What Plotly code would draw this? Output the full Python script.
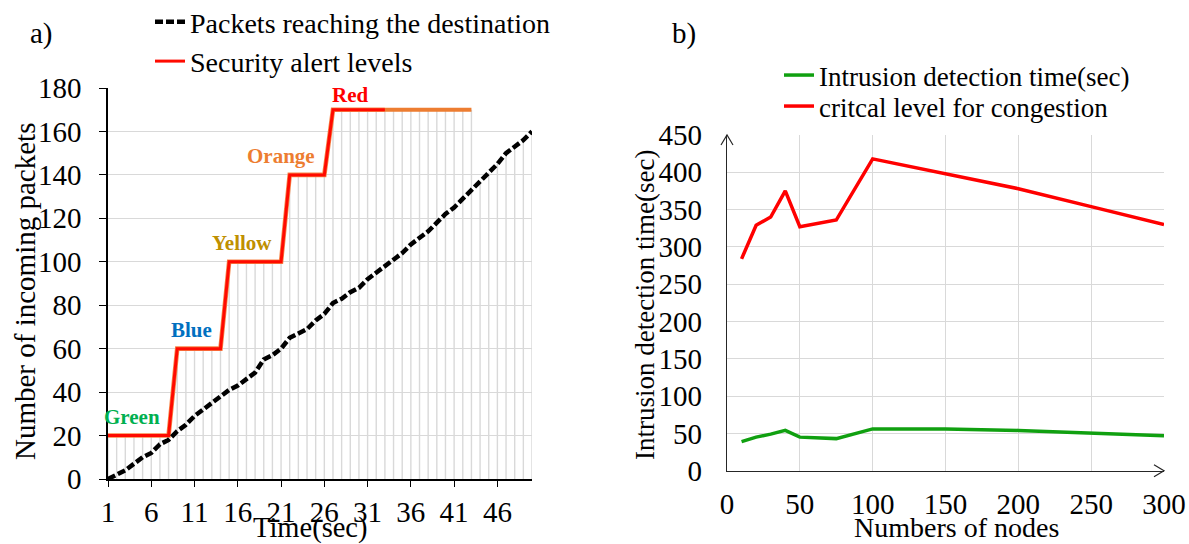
import plotly.graph_objects as go

# ---------------- data: panel a ----------------
time_sec = list(range(1, 51))
packets = [0, 2, 4, 7, 10, 12, 16, 18, 22, 25,
           29, 32, 35, 38, 41, 43, 46, 49, 55, 57,
           60, 65, 67, 69, 73, 76, 81, 83, 86, 88,
           92, 95, 98, 101, 104, 108, 111, 114, 118, 122,
           125, 129, 133, 137, 141, 145, 150, 153, 156, 160]
alert_levels = [20, 20, 20, 20, 20, 20, 20, 20,
                60, 60, 60, 60, 60, 60,
                100, 100, 100, 100, 100, 100, 100,
                140, 140, 140, 140, 140,
                170, 170, 170, 170, 170, 170, 170, 170, 170,
                170, 170, 170, 170, 170, 170, 170, 170]
level_names = ["Green", "Blue", "Yellow", "Orange", "Red"]
level_values = [20, 60, 100, 140, 170]
level_colors = ["#00B050", "#0070C0", "#BF9000", "#ED7D31", "#FF0000"]
x_ticks_a = [1, 6, 11, 16, 21, 26, 31, 36, 41, 46]
red_until = 33  # red segment ends at this time, orange afterwards

# ---------------- data: panel b ----------------
nodes = [10, 20, 30, 40, 50, 75, 100, 150, 200, 250, 300]
detection_time = [39, 45, 49, 54, 45, 43, 56, 56, 54, 51, 47]
critical_level = [284, 329, 340, 375, 327, 336, 418, 398, 378, 354, 330]

W, H = 1189, 544        # browser window (page margin removed below)
SERIF = "Liberation Serif"
GRID = "#D9D9D9"


def fx(p):
    return p / W


def fy(p):
    return 1 - p / H


# layout geometry (window pixels)
A_LEFT, A_RIGHT, A_BOTTOM, A_TOP = 108, 532, 479, 88
B_LEFT, B_RIGHT, B_BOTTOM, B_TOP = 727, 1164, 470.7, 135

fig = go.Figure()

# drop lines (vertical lines from axis up to the highest series)
dx, dy = [], []
for i, t in enumerate(time_sec):
    top = packets[i]
    if i < len(alert_levels):
        top = max(top, alert_levels[i])
    dx += [t, t, None]
    dy += [0, top, None]
fig.add_trace(go.Scatter(x=dx, y=dy, mode="lines", line=dict(color=GRID, width=1.4),
                         showlegend=False, hoverinfo="skip", xaxis="x", yaxis="y"))

# alert levels
n_red = time_sec.index(red_until) + 1
fig.add_trace(go.Scatter(x=time_sec[:n_red], y=alert_levels[:n_red], mode="lines",
                         line=dict(color="#F7864A", width=4.6), showlegend=False,
                         hoverinfo="skip", xaxis="x", yaxis="y"))
fig.add_trace(go.Scatter(x=time_sec[n_red - 1:len(alert_levels)],
                         y=alert_levels[n_red - 1:], mode="lines",
                         line=dict(color="#ED7D31", width=4), showlegend=False,
                         xaxis="x", yaxis="y"))
fig.add_trace(go.Scatter(x=time_sec[:n_red], y=alert_levels[:n_red], mode="lines",
                         line=dict(color="#FF0A00", width=3),
                         name="Security alert levels", legend="legend", legendrank=2,
                         xaxis="x", yaxis="y"))
# packets
fig.add_trace(go.Scatter(x=time_sec, y=packets, mode="lines",
                         line=dict(color="black", width=4.5, dash="8px,3px"),
                         name="Packets reaching the destination", legend="legend",
                         legendrank=1, xaxis="x", yaxis="y"))

# panel b lines
fig.add_trace(go.Scatter(x=nodes, y=detection_time, mode="lines",
                         line=dict(color="#10A010", width=3.5),
                         name="Intrusion detection time(sec)", legend="legend2",
                         xaxis="x2", yaxis="y2"))
fig.add_trace(go.Scatter(x=nodes, y=critical_level, mode="lines",
                         line=dict(color="#FF0000", width=3.5),
                         name="critcal level for congestion", legend="legend3",
                         xaxis="x2", yaxis="y2"))

tickfont = dict(family=SERIF, size=29, color="black")
legend_common = dict(xanchor="left", yanchor="top", bgcolor="rgba(0,0,0,0)",
                     borderwidth=0, traceorder="normal")

fig.update_layout(
    width=W, height=H,
    margin=dict(l=0, r=0, t=0, b=0, autoexpand=False),
    paper_bgcolor="white", plot_bgcolor="white",
    font=dict(family=SERIF, color="black"),
    xaxis=dict(domain=[fx(A_LEFT), fx(A_RIGHT)], range=[1, 50], anchor="y",
               tickvals=x_ticks_a, ticks="outside", ticklen=6, tickcolor="black",
               tickwidth=1.3, showline=True, linecolor="black", linewidth=1.5,
               showgrid=False, zeroline=False, tickfont=tickfont,
               ticklabelstandoff=0, automargin=False),
    yaxis=dict(domain=[fy(A_BOTTOM), fy(A_TOP)], range=[0, 180], dtick=20, anchor="x",
               ticks="outside", ticklen=7, tickcolor="black", tickwidth=1.3,
               showline=True, linecolor="black", linewidth=1.5,
               showgrid=True, gridcolor=GRID, gridwidth=1.3, zeroline=False,
               tickfont=tickfont, ticklabelstandoff=12, automargin=False),
    xaxis2=dict(domain=[fx(B_LEFT), fx(B_RIGHT)], range=[0, 300], dtick=50, anchor="y2",
                showline=True, linecolor="#262626", linewidth=1.2, ticks="",
                showgrid=True, gridcolor=GRID, gridwidth=1.3, zeroline=False,
                tickfont=tickfont, ticklabelstandoff=7, automargin=False),
    yaxis2=dict(domain=[fy(B_BOTTOM), fy(B_TOP)], range=[0, 450], dtick=50, anchor="x2",
                showline=True, linecolor="#262626", linewidth=1.2, ticks="",
                showgrid=True, gridcolor=GRID, gridwidth=1.3, zeroline=False,
                tickfont=tickfont, ticklabelstandoff=18, automargin=False),
    legend=dict(x=fx(150), y=fy(-3), font=dict(family=SERIF, size=28, color="black"),
                **legend_common),
    legend2=dict(x=fx(779), y=fy(51), font=dict(family=SERIF, size=27, color="black"),
                 **legend_common),
    legend3=dict(x=fx(779), y=fy(82), font=dict(family=SERIF, size=27, color="black"),
                 **legend_common),
    showlegend=True,
)

# axis arrows for panel b (paper coordinates at the axis ends)
arrow_line = dict(color="#262626", width=1.2)
fig.add_shape(type="path", xref="paper", yref="paper", xsizemode="pixel", ysizemode="pixel",
              xanchor=fx(B_RIGHT), yanchor=fy(B_BOTTOM), path="M -10,6 L 0,0 L -10,-6",
              line=arrow_line, layer="above")
fig.add_shape(type="path", xref="paper", yref="paper", xsizemode="pixel", ysizemode="pixel",
              xanchor=fx(B_LEFT), yanchor=fy(B_TOP), path="M -6,-10 L 0,0 L 6,-10",
              line=arrow_line, layer="above")

annotations = []
# level labels
for i, (name, val, col) in enumerate(zip(level_names, level_values, level_colors)):
    idx = [k for k, a in enumerate(alert_levels) if a == val]
    start, end = time_sec[idx[0]], time_sec[idx[-1]]
    if i < len(level_names) - 1:
        annotations.append(dict(x=end - 0.8, y=val, xref="x", yref="y", text="<b>%s</b>" % name,
                                showarrow=False, xanchor="right", yanchor="bottom", yshift=5,
                                font=dict(family=SERIF, size=21, color=col)))
    else:
        annotations.append(dict(x=start - 0.4, y=val, xref="x", yref="y", text="<b>%s</b>" % name,
                                showarrow=False, xanchor="left", yanchor="bottom", yshift=1,
                                font=dict(family=SERIF, size=21, color=col)))

titles = [
    ("Time(sec)", 310, 528, 0, 28.5),
    ("Number of incoming packets", 25, 292, -90, 29),
    ("Numbers of nodes", 956, 527, 0, 28),
    ("Intrusion detection time(sec)", 645, 305, -90, 27),
    ("a)", 41, 33, 0, 29),
    ("b)", 684, 33, 0, 29),
]
for txt, x, y, ang, sz in titles:
    annotations.append(dict(x=fx(x), y=fy(y), xref="paper", yref="paper", text=txt,
                            showarrow=False, xanchor="center", yanchor="middle",
                            textangle=ang, font=dict(family=SERIF, size=sz, color="black")))
fig.update_layout(annotations=annotations)

fig.write_html("out.html",
               config={"displayModeBar": False},
               post_script="document.body.style.margin='0';"
                           "document.body.style.overflow='hidden';")
